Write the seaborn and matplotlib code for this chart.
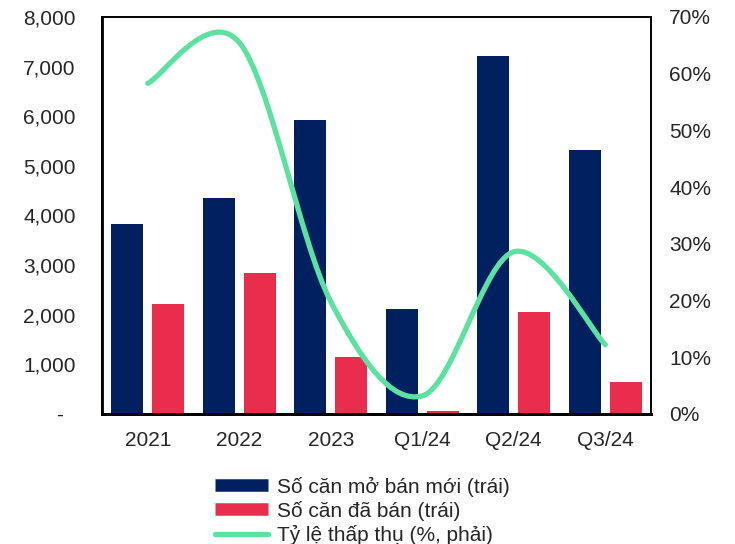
import numpy as np
import pandas as pd
import matplotlib.pyplot as plt
import seaborn as sns
from matplotlib.path import Path
from matplotlib.patches import PathPatch
from matplotlib.lines import Line2D
from matplotlib.ticker import FuncFormatter

# data
periods = ['2021', '2022', '2023', 'Q1/24', 'Q2/24', 'Q3/24']
mo_ban = [3820, 4350, 5930, 2110, 7220, 5320]      # Số căn mở bán mới
da_ban = [2210, 2840, 1150, 60, 2050, 650]         # Số căn đã bán
ty_le = [58.3, 65.5, 19.8, 3.2, 28.6, 12.2]        # Tỷ lệ thấp thụ (%)

lbl_mo = 'Số căn mở bán mới (trái)'
lbl_da = 'Số căn đã bán (trái)'
lbl_tl = 'Tỷ lệ thấp thụ (%, phải)'

navy = '#002060'
red = '#EA2D4C'
green = '#5CE2A0'

sns.set_style('white')
plt.rcParams['font.family'] = ['Liberation Sans', 'DejaVu Sans']

df = pd.DataFrame({
    'period': periods * 2,
    'value': mo_ban + da_ban,
    'series': [lbl_mo] * len(periods) + [lbl_da] * len(periods),
})

fig = plt.figure(figsize=(7.35, 5.44), dpi=100)
ax = fig.add_axes([0.1388, 0.239, 0.747, 0.7298])

sns.barplot(data=df, x='period', y='value', hue='series', order=periods,
            hue_order=[lbl_mo, lbl_da], palette=[navy, red], width=0.9,
            gap=0.22, legend=False, linewidth=0, saturation=1, ax=ax)
ax.set_xlim(-0.5, len(periods) - 0.5)
ax.set_ylim(0, 8000)
ax.set_yticks(range(0, 8001, 1000))
ax.yaxis.set_major_formatter(FuncFormatter(lambda v, p: '-  ' if v == 0 else f'{int(v):,}'))
ax.set_xlabel('')
ax.set_ylabel('')
ax.tick_params(axis='y', length=0, pad=19, labelsize=15)
ax.tick_params(axis='x', length=0, pad=12, labelsize=15)

# right axis: smoothed line (Bezier through the data points, Excel style)
ax2 = ax.twinx()
ax2.set_ylim(0, 70)
ax2.set_yticks(range(0, 71, 10))
ax2.yaxis.set_major_formatter(FuncFormatter(lambda v, p: f'{int(v)}%'))
ax2.tick_params(axis='y', length=0, pad=13, labelsize=15)

pts = np.array([[i, v] for i, v in enumerate(ty_le)], dtype=float)
verts = [pts[0]]
codes = [Path.MOVETO]
n = len(pts)
for i in range(n - 1):
    p0 = pts[max(i - 1, 0)]
    p1 = pts[i]
    p2 = pts[i + 1]
    p3 = pts[min(i + 2, n - 1)]
    verts += [p1 + (p2 - p0) / 6, p2 - (p3 - p1) / 6, p2]
    codes += [Path.CURVE4] * 3
ax2.add_patch(PathPatch(Path(verts, codes), facecolor='none', edgecolor=green,
                        lw=3.8, capstyle='round', joinstyle='round'))

for a in (ax, ax2):
    for s in a.spines.values():
        s.set_color('black')
        s.set_linewidth(1.2)
ax.spines['left'].set_linewidth(2)
ax.spines['bottom'].set_linewidth(2)
ax2.spines['bottom'].set_linewidth(2)

handles = [
    Line2D([], [], color=navy, lw=9, solid_capstyle='butt'),
    Line2D([], [], color=red, lw=9, solid_capstyle='butt'),
    Line2D([], [], color=green, lw=3.8, solid_capstyle='round'),
]
fig.legend(handles, [lbl_mo, lbl_da, lbl_tl], loc='upper left',
           bbox_to_anchor=(0.2925, 0.124), bbox_transform=fig.transFigure,
           frameon=False, fontsize=15, handlelength=2.55, handletextpad=0.45,
           labelspacing=0.2, borderaxespad=0, borderpad=0)

fig.savefig('out.png', dpi=100)
